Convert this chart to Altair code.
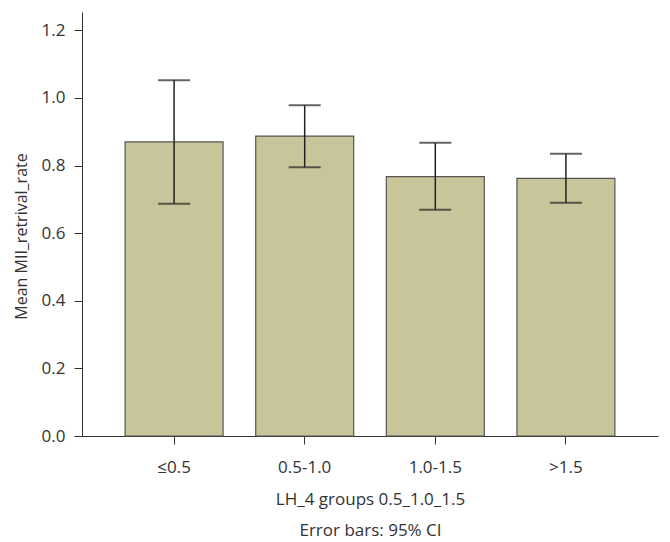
import altair as alt
import pandas as pd

groups = ["≤0.5", "0.5-1.0", "1.0-1.5", ">1.5"]
means = [0.870, 0.887, 0.767, 0.762]
upper = [1.052, 0.978, 0.867, 0.835]
lower = [0.687, 0.795, 0.669, 0.690]
y_ticks = [0.0, 0.2, 0.4, 0.6, 0.8, 1.0, 1.2]

df = pd.DataFrame({"group": groups, "mean": means, "upper": upper, "lower": lower})

FONT = "Open Sans"
TXT = "#333333"

x_enc = alt.X(
    "group:N",
    sort=groups,
    scale=alt.Scale(paddingInner=0.25, paddingOuter=0.33),
    axis=alt.Axis(
        title=["LH_4 groups 0.5_1.0_1.5", "Error bars: 95% CI"],
        labelAngle=0,
        labelFontSize=17,
        labelFont=FONT,
        labelColor=TXT,
        labelPadding=15,
        tickSize=8,
        tickColor="#333333",
        domainColor="#333333",
        titleFont=FONT,
        titleFontSize=17,
        titleFontWeight="normal",
        titleColor=TXT,
        titleLineHeight=31,
        titlePadding=16,
    ),
)

y_scale = alt.Scale(domain=[0, 1.254], nice=False, zero=True)

bars = alt.Chart(df).mark_bar(
    color="#c9c59a", stroke="#555555", strokeWidth=1.2
).encode(
    x=x_enc,
    y=alt.Y(
        "mean:Q",
        scale=y_scale,
        axis=alt.Axis(
            title="Mean MII_retrival_rate",
            values=y_ticks,
            format=".1f",
            grid=False,
            labelFontSize=17,
            labelFont=FONT,
            labelColor=TXT,
            labelPadding=9,
            tickSize=8,
            tickColor="#333333",
            domainColor="#333333",
            titleFont=FONT,
            titleFontSize=16,
            titleFontWeight="normal",
            titleColor=TXT,
            titlePadding=12,
            titleY=224,
        ),
    ),
)

rules = alt.Chart(df).mark_rule(color="#222222", strokeWidth=1.5).encode(
    x=alt.X("group:N", sort=groups),
    y=alt.Y("lower:Q", scale=y_scale),
    y2="upper:Q",
)

caps_hi = alt.Chart(df).mark_tick(color="#222222", thickness=2, size=32).encode(
    x=alt.X("group:N", sort=groups),
    y=alt.Y("upper:Q", scale=y_scale),
)
caps_lo = alt.Chart(df).mark_tick(color="#222222", thickness=2, size=32).encode(
    x=alt.X("group:N", sort=groups),
    y=alt.Y("lower:Q", scale=y_scale),
)

chart = (
    alt.layer(bars, rules, caps_hi, caps_lo)
    .properties(
        width=576,
        height=424,
        autosize=alt.AutoSizeParams(type="none"),
        padding={"left": 74, "top": 4, "right": 4, "bottom": 110},
        background="white",
    )
    .configure_view(stroke=None)
)

chart.save("out.html", embed_options={"renderer": "svg", "actions": False})
